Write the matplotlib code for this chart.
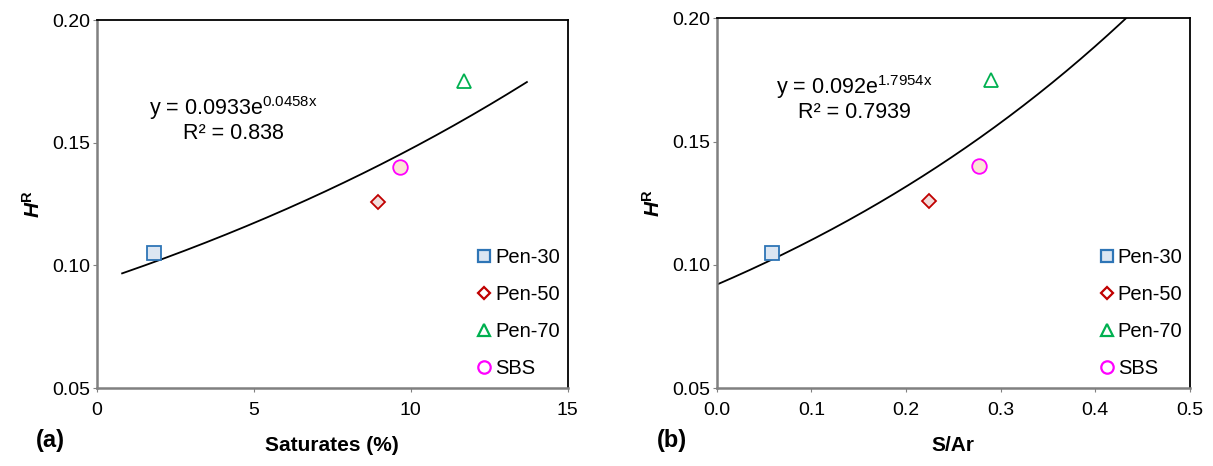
import matplotlib.pyplot as plt
import numpy as np

plt.rcParams["font.family"] = ["Liberation Sans", "DejaVu Sans"]
plt.rcParams["mathtext.fontset"] = "custom"
plt.rcParams["mathtext.rm"] = "Liberation Sans"
plt.rcParams["mathtext.bf"] = "Liberation Sans:bold"
plt.rcParams["mathtext.it"] = "Liberation Sans:italic"
plt.rcParams["mathtext.bfit"] = "Liberation Sans:bold:italic"

# ---- data ----
series = ["Pen-30", "Pen-50", "Pen-70", "SBS"]
saturates = [1.8, 8.95, 11.7, 9.65]          # Saturates (%)
s_ar = [0.058, 0.224, 0.290, 0.277]          # S/Ar
h_r = [0.105, 0.126, 0.175, 0.140]           # H^R

# exponential trend lines shown on the chart: y = a * exp(b x)
fit_a = {"sat": 0.0933, "sar": 0.092}
fit_b = {"sat": 0.0458, "sar": 1.7954}
fit_r2 = {"sat": "0.838", "sar": "0.7939"}
fit_xrange = {"sat": (0.8, 13.7), "sar": (0.0, 0.4325)}

# marker styles per series
markers = ["s", "D", "^", "o"]
edges = ["#2e75b6", "#c00000", "#00b050", "#ff00ff"]
faces = ["#dce6f2", "#f2dcdb", "white", "#fbe5d6"]
sizes = [10.5, 7.5, 9.5, 10.5]


def draw_panel(ax, xs, key, xlim, xticks, xticklabels, xlabel, eq_xy):
    x0, x1 = fit_xrange[key]
    xx = np.linspace(x0, x1, 200)
    ax.plot(xx, fit_a[key] * np.exp(fit_b[key] * xx), color="black", lw=1.3, zorder=2)

    for i, name in enumerate(series):
        ax.plot(xs[i], h_r[i], linestyle="none", marker=markers[i], ms=sizes[i],
                mec=edges[i], mfc=faces[i], mew=1.3, zorder=3)
        # legend handles: only the square keeps its fill, like the reference
        ax.plot([], [], linestyle="none", marker=markers[i], ms=sizes[i] * 0.85,
                mec=edges[i], mfc=faces[i] if i == 0 else "white", mew=1.6, label=name)

    ax.set_xlim(*xlim)
    ax.set_ylim(0.05, 0.20)
    ax.set_xticks(xticks)
    ax.set_xticklabels(xticklabels)
    ax.set_yticks([0.05, 0.10, 0.15, 0.20])
    ax.set_yticklabels(["0.05", "0.10", "0.15", "0.20"])
    ax.tick_params(labelsize=14, length=3, color="#808080", pad=2)
    ax.tick_params(axis="x", pad=7)

    for side in ["left", "bottom"]:
        ax.spines[side].set_color("#808080")
        ax.spines[side].set_linewidth(1.8)
    for side in ["top", "right"]:
        ax.spines[side].set_color("black")
        ax.spines[side].set_linewidth(1.3)

    ax.set_xlabel(xlabel, fontsize=15, fontweight="bold", labelpad=12)
    ax.set_ylabel(r"$\boldsymbol{H}^{\mathbf{R}}$", fontsize=15, labelpad=6)

    eq = f"y = {fit_a[key]}e$^{{\\mathrm{{{fit_b[key]}x}}}}$\nR² = {fit_r2[key]}"
    ax.text(eq_xy[0], eq_xy[1], eq, fontsize=15.5, ha="center", va="center",
            linespacing=1.05, transform=ax.transAxes)

    ax.legend(loc="lower right", frameon=False, fontsize=14.5, handletextpad=0.05,
              handlelength=1.0, labelspacing=0.9, borderaxespad=0.2,
              bbox_to_anchor=(1.01, -0.005))


fig = plt.figure(figsize=(12.13, 4.66), dpi=100)
ax1 = fig.add_axes([0.080, 0.167, 0.388, 0.790])
ax2 = fig.add_axes([0.591, 0.167, 0.390, 0.794])

draw_panel(ax1, saturates, "sat", (0, 15), [0, 5, 10, 15], ["0", "5", "10", "15"],
           "Saturates (%)", (0.29, 0.73))
draw_panel(ax2, s_ar, "sar", (0, 0.5), [0, 0.1, 0.2, 0.3, 0.4, 0.5],
           ["0.0", "0.1", "0.2", "0.3", "0.4", "0.5"], "S/Ar", (0.29, 0.785))

fig.text(36 / 1213, 1 - 441 / 466, "(a)", fontsize=17, fontweight="bold", ha="left", va="center")
fig.text(657 / 1213, 1 - 441 / 466, "(b)", fontsize=17, fontweight="bold", ha="left", va="center")

fig.savefig("out.png", dpi=100)
